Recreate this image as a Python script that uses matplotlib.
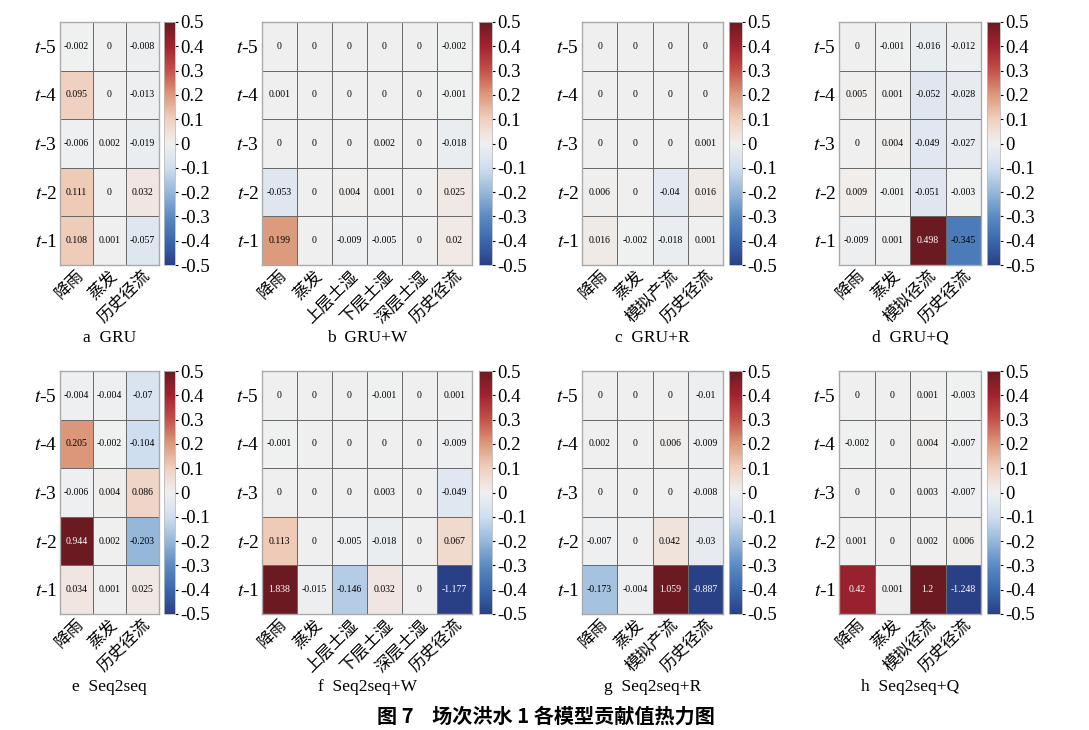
import numpy as np
import matplotlib
matplotlib.use('Agg')
import matplotlib.pyplot as plt
from matplotlib.colors import LinearSegmentedColormap

plt.rcParams['font.family'] = ['Liberation Serif', 'Noto Sans CJK SC']
plt.rcParams['mathtext.fontset'] = 'stix'
plt.rcParams['axes.unicode_minus'] = False

# row labels, top to bottom
lags = [r'$t$-5', r'$t$-4', r'$t$-3', r'$t$-2', r'$t$-1']

cols_base = ['降雨', '蒸发', '历史径流']
cols_w = ['降雨', '蒸发', '上层土湿', '下层土湿', '深层土湿', '历史径流']
cols_r = ['降雨', '蒸发', '模拟产流', '历史径流']
cols_q = ['降雨', '蒸发', '模拟径流', '历史径流']

gru = [[-0.002, 0, -0.008],
       [0.095, 0, -0.013],
       [-0.006, 0.002, -0.019],
       [0.111, 0, 0.032],
       [0.108, 0.001, -0.057]]
gru_w = [[0, 0, 0, 0, 0, -0.002],
         [0.001, 0, 0, 0, 0, -0.001],
         [0, 0, 0, 0.002, 0, -0.018],
         [-0.053, 0, 0.004, 0.001, 0, 0.025],
         [0.199, 0, -0.009, -0.005, 0, 0.02]]
gru_r = [[0, 0, 0, 0],
         [0, 0, 0, 0],
         [0, 0, 0, 0.001],
         [0.006, 0, -0.04, 0.016],
         [0.016, -0.002, -0.018, 0.001]]
gru_q = [[0, -0.001, -0.016, -0.012],
         [0.005, 0.001, -0.052, -0.028],
         [0, 0.004, -0.049, -0.027],
         [0.009, -0.001, -0.051, -0.003],
         [-0.009, 0.001, 0.498, -0.345]]
s2s = [[-0.004, -0.004, -0.07],
       [0.205, -0.002, -0.104],
       [-0.006, 0.004, 0.086],
       [0.944, 0.002, -0.203],
       [0.034, 0.001, 0.025]]
s2s_w = [[0, 0, 0, -0.001, 0, 0.001],
         [-0.001, 0, 0, 0, 0, -0.009],
         [0, 0, 0, 0.003, 0, -0.049],
         [0.113, 0, -0.005, -0.018, 0, 0.067],
         [1.838, -0.015, -0.146, 0.032, 0, -1.177]]
s2s_r = [[0, 0, 0, -0.01],
         [0.002, 0, 0.006, -0.009],
         [0, 0, 0, -0.008],
         [-0.007, 0, 0.042, -0.03],
         [-0.173, -0.004, 1.059, -0.887]]
s2s_q = [[0, 0, 0.001, -0.003],
         [-0.002, 0, 0.004, -0.007],
         [0, 0, 0.003, -0.007],
         [0.001, 0, 0.002, 0.006],
         [0.42, 0.001, 1.2, -1.248]]

panels = [
    ('a  GRU', gru, cols_base),
    ('b  GRU+W', gru_w, cols_w),
    ('c  GRU+R', gru_r, cols_r),
    ('d  GRU+Q', gru_q, cols_q),
    ('e  Seq2seq', s2s, cols_base),
    ('f  Seq2seq+W', s2s_w, cols_w),
    ('g  Seq2seq+R', s2s_r, cols_r),
    ('h  Seq2seq+Q', s2s_q, cols_q),
]

# muted red-blue map sampled from the printed colour bar
cmap = LinearSegmentedColormap.from_list('muted_rdbu', [
    '#2a4086', '#3a68ad', '#5b8bc3', '#96b8da', '#d0def0', '#f0f0f0',
    '#f0d0bf', '#dd9a7c', '#c4524a', '#a3232f', '#6b1a22'])

W, H = 1089, 730
# pixel boxes: heatmap left/right, colorbar left/right
xboxes = [(60, 159, 164, 175), (262, 472, 479, 492),
          (582, 723, 729, 742), (839, 981, 987, 1000)]
yboxes = [(22, 265), (371, 614)]
cap_y = [338, 687]

fig = plt.figure(figsize=(W / 100, H / 100), dpi=100)

for k, (cap, vals, cols) in enumerate(panels):
    r, c = divmod(k, 4)
    x0, x1, c0, c1 = xboxes[c]
    y0, y1 = yboxes[r]
    ax = fig.add_axes([x0 / W, 1 - y1 / H, (x1 - x0) / W, (y1 - y0) / H])
    cax = fig.add_axes([c0 / W, 1 - y1 / H, (c1 - c0) / W, (y1 - y0) / H])

    arr = np.array(vals, dtype=float)
    mesh = ax.pcolormesh(arr, cmap=cmap, vmin=-0.5, vmax=0.5,
                         edgecolors='#6a6a6a', linewidth=0.6)
    ax.set_xlim(0, arr.shape[1])
    ax.set_ylim(arr.shape[0], 0)
    for i in range(arr.shape[0]):
        for j in range(arr.shape[1]):
            v = arr[i, j]
            ax.text(j + 0.5, i + 0.5, f'{v:g}', ha='center', va='center',
                    fontsize=7, color='white' if abs(v) > 0.4 else 'black')
    ax.set_xticks(np.arange(arr.shape[1]) + 0.5)
    ax.set_xticklabels(cols, rotation=45, ha='right', rotation_mode='anchor',
                       fontsize=12)
    ax.set_yticks(np.arange(arr.shape[0]) + 0.5)
    ax.set_yticklabels(lags, fontsize=14)
    ax.tick_params(length=0, pad=2)
    for s in ax.spines.values():
        s.set_color('#aaaaaa')
        s.set_linewidth(1.0)

    cb = fig.colorbar(mesh, cax=cax)
    ticks = np.round(np.arange(-0.5, 0.51, 0.1), 1) + 0.0
    cb.set_ticks(ticks)
    cb.set_ticklabels(['0' if abs(t) < 1e-9 else f'{t:g}' for t in ticks])
    cb.ax.tick_params(labelsize=13.5, length=2.5, width=0.8, pad=1)
    cb.outline.set_edgecolor('#bbbbbb')
    cb.outline.set_linewidth(0.6)

    fig.text((x0 + x1) / 2 / W, 1 - cap_y[r] / H, cap, ha='center', va='center',
             fontsize=12.5)

fig.text(546 / W, 1 - 716 / H, '图 7    场次洪水 1 各模型贡献值热力图',
         ha='center', va='center', fontsize=14.5, fontweight='bold',
         family=['Noto Sans CJK SC', 'DejaVu Sans'])

fig.savefig('out.png', dpi=100)
